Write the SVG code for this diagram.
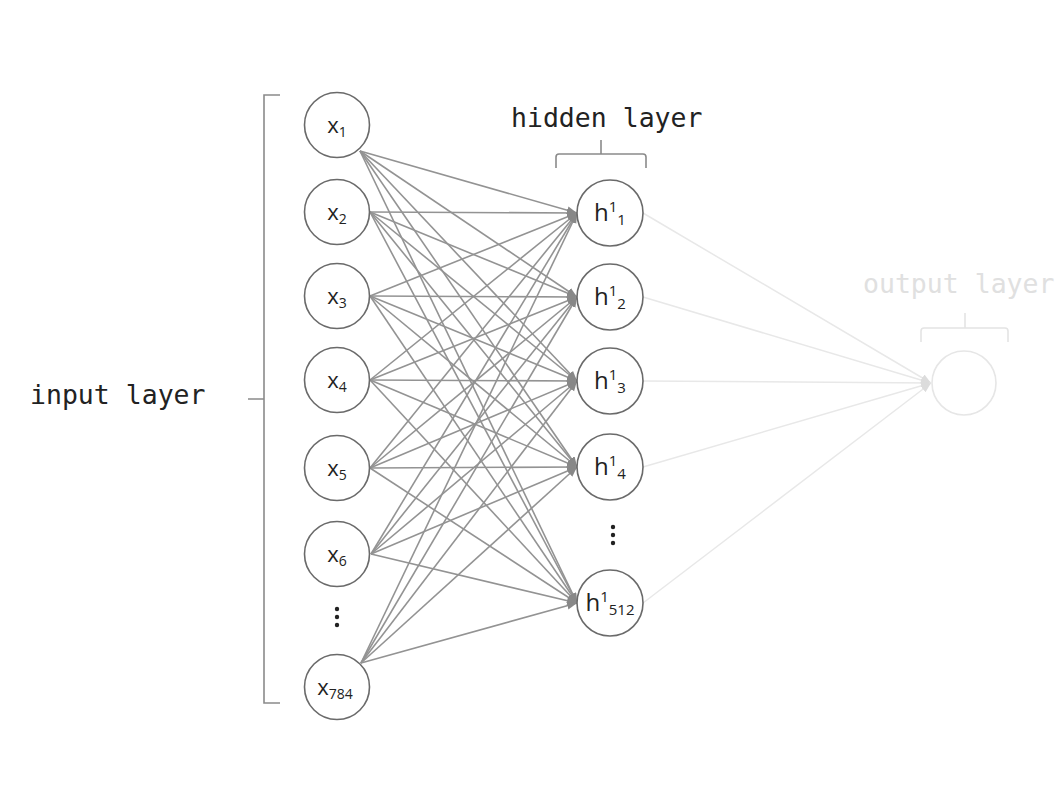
<svg xmlns="http://www.w3.org/2000/svg" width="1060" height="804" viewBox="0 0 1060 804">
<style>
.node{fill:#fff;stroke:#6a6a6a;stroke-width:1.6}
.lbl{font-family:"Open Sans","DejaVu Sans",sans-serif;fill:#222;text-anchor:middle}
.mono{font-family:"DejaVu Sans Mono","Liberation Mono",monospace;font-size:26.5px}
.conn line{stroke:#939393;stroke-width:1.6}
.out line{stroke:#e8e8e8;stroke-width:1.5}
.br{fill:none;stroke:#8a8a8a;stroke-width:1.6}
.dot{fill:#222}
</style>
<defs>
<marker id="ah" markerUnits="userSpaceOnUse" markerWidth="12" markerHeight="10" refX="10" refY="4" orient="auto">
<path d="M0,0 L10,4 L0,8 z" fill="#888"/>
</marker>
<marker id="ahl" markerUnits="userSpaceOnUse" markerWidth="12" markerHeight="10" refX="10" refY="4" orient="auto">
<path d="M0,0 L10,4 L0,8 z" fill="#dcdcdc"/>
</marker>
</defs>
<rect width="1060" height="804" fill="#fff"/>

<g id="connectors">
<g class="conn" marker-end="url(#ah)">
<line x1="360" y1="151" x2="577" y2="213"/><line x1="360" y1="151" x2="577" y2="297"/><line x1="360" y1="151" x2="577" y2="381"/><line x1="360" y1="151" x2="577" y2="467"/><line x1="360" y1="151" x2="577" y2="603"/>
<line x1="370" y1="212" x2="577" y2="213"/><line x1="370" y1="212" x2="577" y2="297"/><line x1="370" y1="212" x2="577" y2="381"/><line x1="370" y1="212" x2="577" y2="467"/><line x1="370" y1="212" x2="577" y2="603"/>
<line x1="370" y1="296" x2="577" y2="213"/><line x1="370" y1="296" x2="577" y2="297"/><line x1="370" y1="296" x2="577" y2="381"/><line x1="370" y1="296" x2="577" y2="467"/><line x1="370" y1="296" x2="577" y2="603"/>
<line x1="370" y1="380" x2="577" y2="213"/><line x1="370" y1="380" x2="577" y2="297"/><line x1="370" y1="380" x2="577" y2="381"/><line x1="370" y1="380" x2="577" y2="467"/><line x1="370" y1="380" x2="577" y2="603"/>
<line x1="370" y1="468" x2="577" y2="213"/><line x1="370" y1="468" x2="577" y2="297"/><line x1="370" y1="468" x2="577" y2="381"/><line x1="370" y1="468" x2="577" y2="467"/><line x1="370" y1="468" x2="577" y2="603"/>
<line x1="371" y1="554" x2="577" y2="213"/><line x1="371" y1="554" x2="577" y2="297"/><line x1="371" y1="554" x2="577" y2="381"/><line x1="371" y1="554" x2="577" y2="467"/><line x1="371" y1="554" x2="577" y2="603"/>
<line x1="361" y1="663" x2="577" y2="213"/><line x1="361" y1="663" x2="577" y2="297"/><line x1="361" y1="663" x2="577" y2="381"/><line x1="361" y1="663" x2="577" y2="467"/><line x1="361" y1="663" x2="577" y2="603"/>
</g>
<g class="out" marker-end="url(#ahl)">
<line x1="643" y1="213" x2="931" y2="383"/><line x1="643" y1="297" x2="931" y2="383"/><line x1="643" y1="381" x2="931" y2="383"/><line x1="643" y1="467" x2="931" y2="383"/><line x1="643" y1="603" x2="931" y2="383"/>
</g>
</g>

<g id="input-bracket">
<path class="br" d="M280,95 H264 V703 H280 M264,399 H248"/>
<text class="mono" x="30" y="404" fill="#222">input layer</text>
</g>
<g id="hidden-bracket">
<path class="br" d="M556,168 V157 Q556,154 559,154 H643 Q646,154 646,157 V168 M601,154 V140"/>
<text class="mono" x="511" y="127" fill="#222">hidden layer</text>
</g>
<g id="output-bracket">
<path d="M921,342 V331 Q921,328 924,328 H1005 Q1008,328 1008,331 V342 M965,328 V313" fill="none" stroke="#e4e4e4" stroke-width="1.6"/>
<text class="mono" x="863" y="293" fill="#e0e0e0">output layer</text>
</g>

<g id="x1"><circle class="node" cx="337" cy="125" r="32.5"/><text class="lbl" x="337" y="133" font-size="22">x<tspan font-size="14" dy="4">1</tspan></text></g>
<g id="x2"><circle class="node" cx="337" cy="212" r="32.5"/><text class="lbl" x="337" y="220" font-size="22">x<tspan font-size="14" dy="4">2</tspan></text></g>
<g id="x3"><circle class="node" cx="337" cy="296" r="32.5"/><text class="lbl" x="337" y="304" font-size="22">x<tspan font-size="14" dy="4">3</tspan></text></g>
<g id="x4"><circle class="node" cx="337" cy="380" r="32.5"/><text class="lbl" x="337" y="388" font-size="22">x<tspan font-size="14" dy="4">4</tspan></text></g>
<g id="x5"><circle class="node" cx="337" cy="468" r="32.5"/><text class="lbl" x="337" y="476" font-size="22">x<tspan font-size="14" dy="4">5</tspan></text></g>
<g id="x6"><circle class="node" cx="337" cy="554" r="32.5"/><text class="lbl" x="337" y="562" font-size="22">x<tspan font-size="14" dy="4">6</tspan></text></g>
<g id="xdots"><circle class="dot" cx="337" cy="609" r="2.2"/><circle class="dot" cx="337" cy="617" r="2.2"/><circle class="dot" cx="337" cy="625" r="2.2"/></g>
<g id="x784"><circle class="node" cx="337" cy="687" r="32.5"/><text class="lbl" x="335" y="695" font-size="22">x<tspan font-size="14" dy="4">784</tspan></text></g>

<g id="h1"><circle class="node" cx="610" cy="213" r="33"/><text class="lbl" x="610" y="221" font-size="24">h<tspan font-size="15" dy="-9">1</tspan><tspan font-size="15" dy="13">1</tspan></text></g>
<g id="h2"><circle class="node" cx="610" cy="297" r="33"/><text class="lbl" x="610" y="305" font-size="24">h<tspan font-size="15" dy="-9">1</tspan><tspan font-size="15" dy="13">2</tspan></text></g>
<g id="h3"><circle class="node" cx="610" cy="381" r="33"/><text class="lbl" x="610" y="389" font-size="24">h<tspan font-size="15" dy="-9">1</tspan><tspan font-size="15" dy="13">3</tspan></text></g>
<g id="h4"><circle class="node" cx="610" cy="467" r="33"/><text class="lbl" x="610" y="475" font-size="24">h<tspan font-size="15" dy="-9">1</tspan><tspan font-size="15" dy="13">4</tspan></text></g>
<g id="hdots"><circle class="dot" cx="613" cy="527" r="2.2"/><circle class="dot" cx="613" cy="535" r="2.2"/><circle class="dot" cx="613" cy="543" r="2.2"/></g>
<g id="h512"><circle class="node" cx="610" cy="603" r="33"/><text class="lbl" x="610" y="611" font-size="24">h<tspan font-size="15" dy="-9">1</tspan><tspan font-size="15" dy="13">512</tspan></text></g>

<g id="output"><circle cx="964" cy="383" r="32" fill="#fff" stroke="#e6e6e6" stroke-width="1.6"/></g>
</svg>
